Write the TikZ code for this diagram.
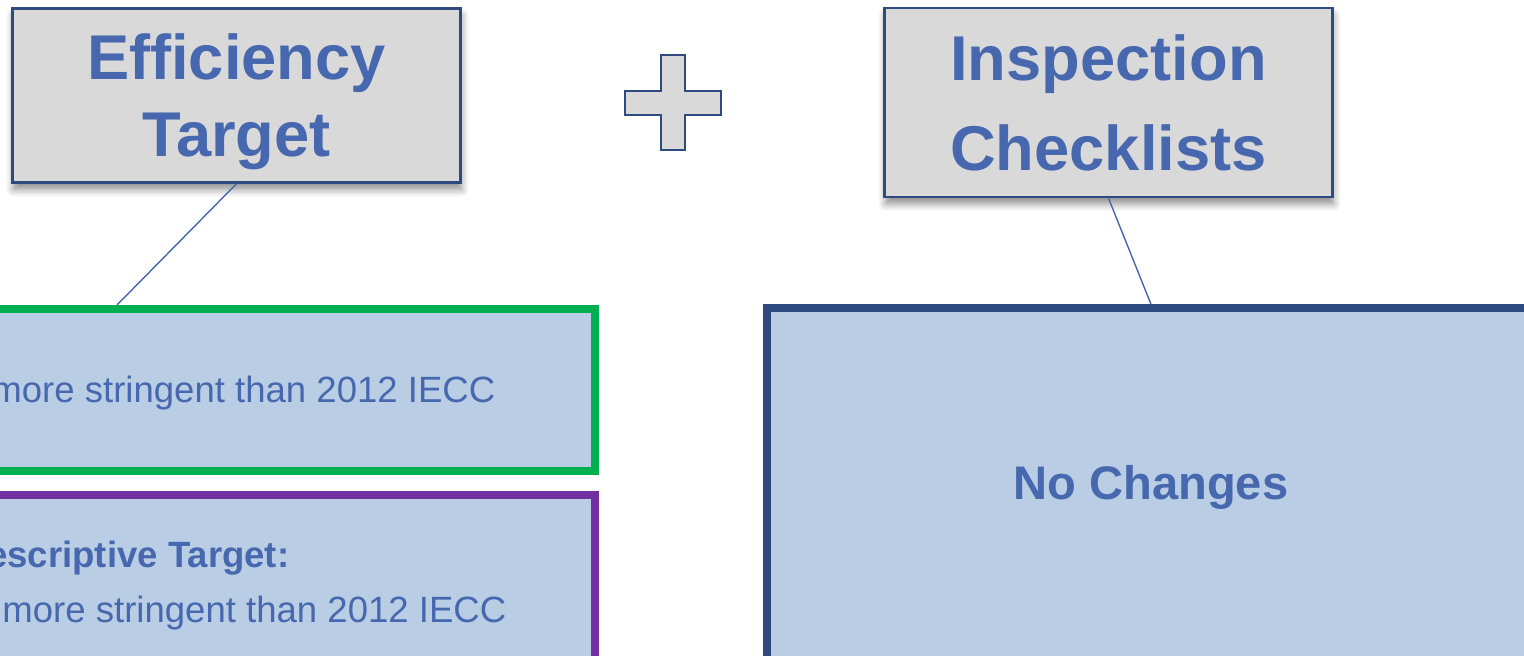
\documentclass[tikz,border=0pt]{standalone}
\usepackage{fontspec}
\setmainfont{Liberation Sans}
\usetikzlibrary{shadows.blur}

\definecolor{textblue}{HTML}{4767AE}
\definecolor{darkblue}{HTML}{2F4A7F}
\definecolor{lightfill}{HTML}{B9CDE5}
\definecolor{headfill}{HTML}{D9D9D9}
\definecolor{targetgreen}{HTML}{00B050}
\definecolor{targetpurple}{HTML}{7030A0}

\begin{document}
\begin{tikzpicture}[
	head/.style={draw=darkblue, line width=0.025cm, fill=headfill, text=textblue, align=center,
		minimum width=4.48cm, text depth=0pt,
		blur shadow={shadow xshift=0.01cm, shadow yshift=-0.07cm, shadow blur steps=6, shadow opacity=45}},
	panel/.style={fill=lightfill, line width=0.08cm},
	body/.style={text=textblue, font=\fontsize{10.4}{12.5}\selectfont, inner sep=0pt},
	link/.style={draw=textblue, line width=0.4pt}]
		\useasboundingbox (0,0) rectangle (15.24,6.56);
		\clip (0,0) rectangle (15.24,6.56);
		% Headings
		\node[head, minimum height=1.74cm, font=\bfseries\fontsize{18}{21.9}\selectfont] (Efficiency target) at (2.365,5.605) {Efficiency\\Target};
		\node[head, minimum height=1.89cm, font=\bfseries\fontsize{18}{25.6}\selectfont] (Inspection checklists) at (11.085,5.535) {Inspection\\Checklists};
		% Plus sign
		\draw[draw=darkblue, line width=0.025cm, fill=headfill] (6.61,6.01) -- (6.85,6.01) -- (6.85,5.65) -- (7.21,5.65) -- (7.21,5.41) -- (6.85,5.41) -- (6.85,5.06) -- (6.61,5.06) -- (6.61,5.41) -- (6.25,5.41) -- (6.25,5.65) -- (6.61,5.65) -- cycle;
		% Panels
		\node[panel, draw=targetgreen, minimum width=8.95cm, minimum height=1.62cm] (Green target) at (1.475,2.66) {};
		\node[panel, draw=targetpurple, minimum width=8.95cm, minimum height=2.25cm] (Purple target) at (1.475,0.485) {};
		\node[panel, draw=darkblue, minimum width=9.327cm, minimum height=4.117cm] (Checklist panel) at (12.3365,1.4185) {};
		% Panel texts
		\node[body, anchor=base east] (Green line) at (4.96,2.53) {more stringent than 2012 IECC};
		\node[body, anchor=base east, font=\bfseries\fontsize{10.4}{12.5}\selectfont] (Purple title) at (2.90,0.88) {escriptive Target:};
		\node[body, anchor=base east] (Purple line) at (5.07,0.33) {more stringent than 2012 IECC};
		\node[body, anchor=base, font=\bfseries\fontsize{13.4}{16}\selectfont] (No changes) at (11.51,1.56) {No Changes};
		% Links
		\coordinate (Eff drop) at (1.17,0);
		\coordinate (Insp drop) at (11.51,0);
		\draw[link] (Efficiency target.south) -- (Green target.north -| Eff drop);
		\draw[link] (Inspection checklists.south) -- (Checklist panel.north -| Insp drop);
	\end{tikzpicture}
\end{document}
